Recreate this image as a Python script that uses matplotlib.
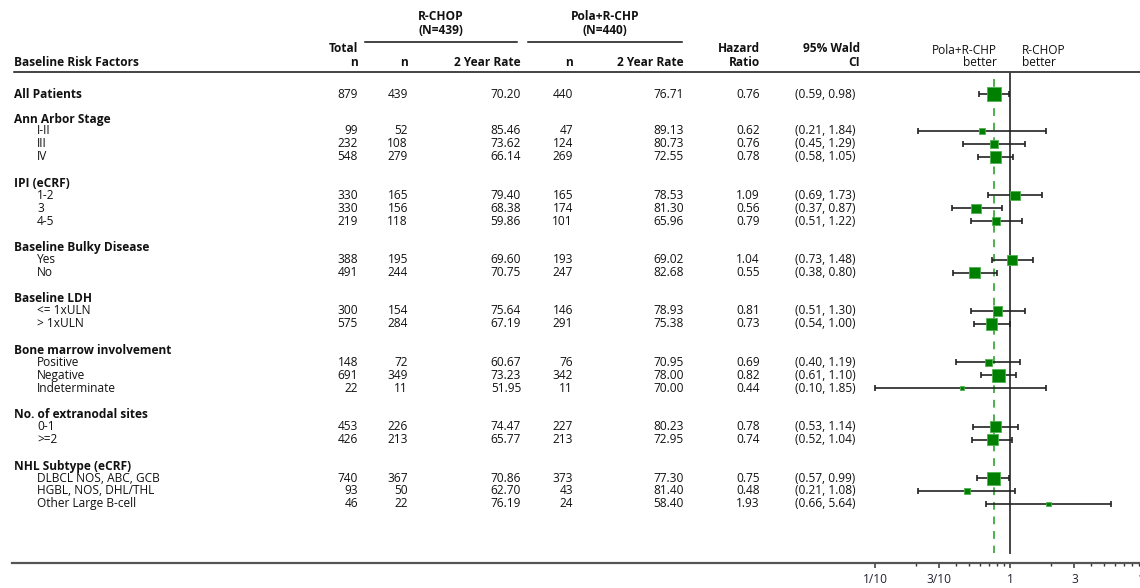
import numpy as np
import matplotlib
matplotlib.use("Agg")
import matplotlib.pyplot as plt
from matplotlib import transforms
from matplotlib.ticker import FixedLocator, FixedFormatter, NullFormatter

plt.rcParams['font.family'] = ['Open Sans', 'DejaVu Sans']
FS = 8.6

# ---- data -------------------------------------------------------------
overall_label = "All Patients"
group_titles = ["Ann Arbor Stage", "IPI (eCRF)", "Baseline Bulky Disease",
                "Baseline LDH", "Bone marrow involvement",
                "No. of extranodal sites", "NHL Subtype (eCRF)"]
group_levels = [["I-II", "III", "IV"],
                ["1-2", "3", "4-5"],
                ["Yes", "No"],
                ["<= 1xULN", "> 1xULN"],
                ["Positive", "Negative", "Indeterminate"],
                ["0-1", ">=2"],
                ["DLBCL NOS, ABC, GCB", "HGBL, NOS, DHL/THL", "Other Large B-cell"]]

# rows: overall first, then every level in group order
total_n = [879, 99, 232, 548, 330, 330, 219, 388, 491, 300, 575,
           148, 691, 22, 453, 426, 740, 93, 46]
rchop_n = [439, 52, 108, 279, 165, 156, 118, 195, 244, 154, 284,
           72, 349, 11, 226, 213, 367, 50, 22]
rchop_rate = [70.20, 85.46, 73.62, 66.14, 79.40, 68.38, 59.86, 69.60, 70.75,
              75.64, 67.19, 60.67, 73.23, 51.95, 74.47, 65.77, 70.86, 62.70, 76.19]
pola_n = [440, 47, 124, 269, 165, 174, 101, 193, 247, 146, 291,
          76, 342, 11, 227, 213, 373, 43, 24]
pola_rate = [76.71, 89.13, 80.73, 72.55, 78.53, 81.30, 65.96, 69.02, 82.68,
             78.93, 75.38, 70.95, 78.00, 70.00, 80.23, 72.95, 77.30, 81.40, 58.40]
hazard_ratio = [0.76, 0.62, 0.76, 0.78, 1.09, 0.56, 0.79, 1.04, 0.55, 0.81,
                0.73, 0.69, 0.82, 0.44, 0.78, 0.74, 0.75, 0.48, 1.93]
ci_lower = [0.59, 0.21, 0.45, 0.58, 0.69, 0.37, 0.51, 0.73, 0.38, 0.51,
            0.54, 0.40, 0.61, 0.10, 0.53, 0.52, 0.57, 0.21, 0.66]
ci_upper = [0.98, 1.84, 1.29, 1.05, 1.73, 0.87, 1.22, 1.48, 0.80, 1.30,
            1.00, 1.19, 1.10, 1.85, 1.14, 1.04, 0.99, 1.08, 5.64]

major_ticks = [0.1, 0.3, 1, 3, 10]
major_tick_labels = ["1/10", "3/10", "1", "3", "10"]
minor_ticks = [0.2, 0.4, 0.5, 0.6, 0.7, 0.8, 0.9, 2, 4, 5, 6, 7, 8, 9]

# ---- layout (pixel units, y grows downward) ---------------------------
W, H = 1140, 588
fig = plt.figure(figsize=(W / 100, H / 100), dpi=100)
ax_left_px, ax_right_px, ax_bottom_px = 12, 1150, 563
ax = fig.add_axes([ax_left_px / W, (H - ax_bottom_px) / H,
                   (ax_right_px - ax_left_px) / W, ax_bottom_px / H])
ax.set_xscale('log')
px_per_decade = 135.0
one_px = 1010.0
ax.set_xlim(10 ** ((ax_left_px - one_px) / px_per_decade),
            10 ** ((ax_right_px - one_px) / px_per_decade))
ax.set_ylim(ax_bottom_px, 0)

# text columns are placed in figure pixels horizontally, data rows vertically
tx = transforms.blended_transform_factory(
    transforms.Affine2D().scale(1.0 / W) + fig.transFigure, ax.transData)

# compute row positions
row_y = []
label_rows = []          # (y, text, bold, indent)
y = 94.0
row_y.append(y)
label_rows.append((y, overall_label, True, False))
for title, levels in zip(group_titles, group_levels):
    y += 25.0 if title == group_titles[0] else 26.5
    label_rows.append((y, title, True, False))
    y += 12.0
    for i, lev in enumerate(levels):
        if i > 0:
            y += 12.9
        row_y.append(y)
        label_rows.append((y, lev, False, True))
row_y = np.array(row_y)

txt = dict(transform=tx, fontsize=FS, color='#111111', va='center', clip_on=False)

for yy, text, bold, indent in label_rows:
    ax.text(37 if indent else 14, yy, text, ha='left',
            fontweight='bold' if bold else 'normal', **txt)

for i, yy in enumerate(row_y):
    ax.text(358, yy, f"{total_n[i]}", ha='right', **txt)
    ax.text(408, yy, f"{rchop_n[i]}", ha='right', **txt)
    ax.text(521, yy, f"{rchop_rate[i]:.2f}", ha='right', **txt)
    ax.text(573, yy, f"{pola_n[i]}", ha='right', **txt)
    ax.text(684, yy, f"{pola_rate[i]:.2f}", ha='right', **txt)
    ax.text(760, yy, f"{hazard_ratio[i]:.2f}", ha='right', **txt)
    ax.text(795, yy, f"({ci_lower[i]:.2f}, {ci_upper[i]:.2f})", ha='left', **txt)

# column headers
hb = dict(txt, fontweight='bold')
ax.text(14, 62, "Baseline Risk Factors", ha='left', **hb)
ax.text(358, 49, "Total", ha='right', **hb)
ax.text(358, 62, "n", ha='right', **hb)
ax.text(408, 62, "n", ha='right', **hb)
ax.text(521, 62, "2 Year Rate", ha='right', **hb)
ax.text(573, 62, "n", ha='right', **hb)
ax.text(684, 62, "2 Year Rate", ha='right', **hb)
ax.text(760, 49, "Hazard", ha='right', **hb)
ax.text(760, 62, "Ratio", ha='right', **hb)
ax.text(860, 49, "95% Wald", ha='right', **hb)
ax.text(860, 62, "CI", ha='right', **hb)
ax.text(441, 17, "R-CHOP", ha='center', **hb)
ax.text(441, 30, f"(N={rchop_n[0]})", ha='center', **hb)
ax.text(605, 17, "Pola+R-CHP", ha='center', **hb)
ax.text(605, 30, f"(N={pola_n[0]})", ha='center', **hb)

ax.text(997, 50, "Pola+R-CHP", ha='right', **txt)
ax.text(997, 63, "better", ha='right', **txt)
ax.text(1022, 50, "R-CHOP", ha='left', **txt)
ax.text(1022, 63, "better", ha='left', **txt)

# rules
ax.plot([365, 517], [41.5, 41.5], transform=tx, color='#111111', lw=1.1,
        clip_on=False)
ax.plot([528, 682], [41.5, 41.5], transform=tx, color='#111111', lw=1.1,
        clip_on=False)
ax.plot([14, W], [72, 72], transform=tx, color='#111111', lw=1.1, clip_on=False)

# reference lines
ax.plot([1, 1], [72, 553], color='#444444', lw=1.4, zorder=2)
ax.plot([hazard_ratio[0]] * 2, [79, 553], color='#4cb04c', lw=1.4,
        dashes=(4, 3.5), zorder=2)

# confidence intervals and point estimates
hr = np.array(hazard_ratio)
err = np.vstack([hr - np.array(ci_lower), np.array(ci_upper) - hr])
ax.errorbar(hr, row_y, xerr=err, fmt='none', ecolor='#222222', elinewidth=1.2,
            capsize=2.3, capthick=1.2, zorder=3)
# square area grows with the subgroup size
side_pt = 0.72 * (2.0 + 12.0 * np.sqrt(np.array(total_n) / total_n[0]))
ax.scatter(hr, row_y, s=side_pt ** 2, marker='s', facecolor='#008000',
           edgecolor='#4fb34f', linewidths=0.6, zorder=4)

# axis styling
for s in ['top', 'left', 'right']:
    ax.spines[s].set_visible(False)
ax.spines['bottom'].set_color('#555555')
ax.spines['bottom'].set_linewidth(1.6)
ax.xaxis.set_major_locator(FixedLocator(major_ticks))
ax.xaxis.set_major_formatter(FixedFormatter(major_tick_labels))
ax.xaxis.set_minor_locator(FixedLocator(minor_ticks))
ax.xaxis.set_minor_formatter(NullFormatter())
ax.tick_params(axis='x', which='major', length=3.5, width=1.1, color='#333333',
               labelsize=FS, labelcolor='#222233', pad=4)
ax.tick_params(axis='x', which='minor', length=2.5, width=1.0, color='#333333')
ax.set_yticks([])
ax.patch.set_alpha(0)

fig.savefig("out.png", dpi=100)
